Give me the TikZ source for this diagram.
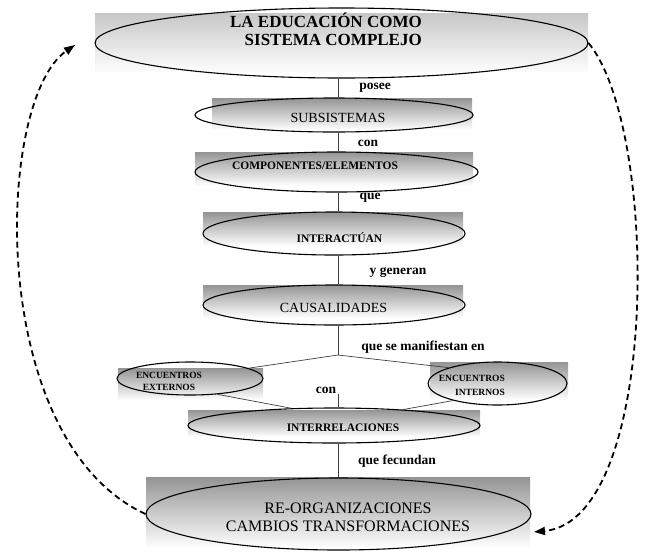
\documentclass[tikz,border=0pt]{standalone}
\usepackage{fontspec}
\setmainfont{Liberation Serif}
\usetikzlibrary{shapes.geometric,arrows.meta,calc}
\begin{document}
\begin{tikzpicture}[x=1pt,y=-1pt,
  oval/.style={ellipse,draw=black,line width=1.1pt,inner sep=0pt},
  conn/.style={draw=black!75,line width=0.7pt},
  lbl/.style={font=\bfseries\fontsize{13.5}{15}\selectfont,inner sep=0pt},
  ovtxt/.style={inner sep=0pt,align=center},
  back/.style={top color=black!42,bottom color=white},
  loopline/.style={line width=1.8pt,dash pattern=on 6pt off 4pt,-{Triangle[length=11pt,width=8pt]}}
]
\useasboundingbox (0,0) rectangle (650,552);

% gradient backgrounds
\shade[top color=black!22,middle color=black!38,bottom color=white] (95,13) rectangle (588,74);
\shade[back] (212,98) rectangle (472,130);
\shade[back] (195,152) rectangle (473,186);
\shade[back] (203,212) rectangle (463,246);
\shade[back] (203,285) rectangle (463,318);
\shade[back] (118,368) rectangle (263,400);
\shade[back] (430,362) rectangle (568,400);
\shade[back] (188,410) rectangle (480,437);
\shade[back] (146,477) rectangle (530,548);

% ellipses
\node[oval,minimum width=493pt,minimum height=70pt] (top) at (341.5,43) {};
\node[oval,minimum width=278pt,minimum height=34pt] (sub) at (334,115) {};
\node[oval,minimum width=283pt,minimum height=40pt] (comp) at (336.5,172) {};
\node[oval,minimum width=262pt,minimum height=43pt] (inter) at (334,233.5) {};
\node[oval,minimum width=262pt,minimum height=40pt] (caus) at (334,305) {};
\node[oval,minimum width=146pt,minimum height=33pt] (ext) at (190,378.5) {};
\node[oval,minimum width=139pt,minimum height=43pt] (int) at (497.5,383.5) {};
\node[oval,minimum width=292pt,minimum height=35pt] (interrel) at (334,425.5) {};
\node[oval,minimum width=385pt,minimum height=72pt] (bot) at (338.5,514) {};

% texts in ellipses
\node[ovtxt,align=right,anchor=east,font=\bfseries\fontsize{17}{18}\selectfont] (ttop) at (422,29) {LA EDUCACIÓN COMO\\SISTEMA COMPLEJO};
\node[ovtxt,font=\fontsize{14}{16}\selectfont] (tsub) at (338,118) {SUBSISTEMAS};
\node[ovtxt,font=\bfseries\fontsize{11.5}{13}\selectfont] (tcomp) at (315,166) {COMPONENTES/ELEMENTOS};
\node[ovtxt,font=\bfseries\fontsize{11.5}{13}\selectfont] (tinter) at (339.5,238) {INTERACTÚAN};
\node[ovtxt,font=\fontsize{14}{16}\selectfont] (tcaus) at (333.5,308) {CAUSALIDADES};
\node[ovtxt,font=\bfseries\fontsize{9.5}{12}\selectfont] (text) at (169,381) {ENCUENTROS\\EXTERNOS};
\node[ovtxt,align=right,anchor=east,font=\bfseries\fontsize{9.5}{14}\selectfont] (tint) at (505,385) {ENCUENTROS\\INTERNOS};
\node[ovtxt,font=\bfseries\fontsize{11.5}{13}\selectfont] (tinterrel) at (343,428) {INTERRELACIONES};
\node[ovtxt,font=\fontsize{16}{18}\selectfont] (tbot) at (348,517) {RE-ORGANIZACIONES\\CAMBIOS TRANSFORMACIONES};

% connectors
\coordinate (ax) at (338,0);
\coordinate (j) at (338,355);
\coordinate (c2) at (338,394);
\draw[conn] (ax |- top.south) -- (ax |- sub.north);
\draw[conn] (ax |- sub.south) -- (ax |- comp.north);
\draw[conn] (ax |- comp.south) -- (ax |- inter.north);
\draw[conn] (ax |- inter.south) -- (ax |- caus.north);
\draw[conn] (ax |- caus.south) -- (j);
\draw[conn] (j) -- (ext.10);
\draw[conn] (j) -- (int.162);
\draw[conn] (c2) -- (ax |- interrel.north);
\draw[conn] (ext.-30) -- (interrel.158);
\draw[conn] (int.201) -- (interrel.13);
\draw[conn] (ax |- interrel.south) -- (ax |- bot.north);

% connector labels
\node[lbl] (lposee) at (375,88) {posee};
\node[lbl] (lcon) at (368,143) {con};
\node[lbl] (lque) at (370,198) {que};
\node[lbl] (lgen) at (398,273) {y generan};
\node[lbl] (lman) at (423,347) {que se manifiestan en};
\node[lbl] (lcon2) at (326,390) {con};
\node[lbl] (lfec) at (397,461) {que fecundan};

% feedback loops
\coordinate (tipL) at (75,45);
\coordinate (tipR) at (534,532);
\draw[loopline] (bot.west) .. controls (-15,440) and (-5,100) .. (tipL);
\draw[loopline] (top.east) .. controls (660,130) and (660,520) .. (tipR);
\end{tikzpicture}
\end{document}
